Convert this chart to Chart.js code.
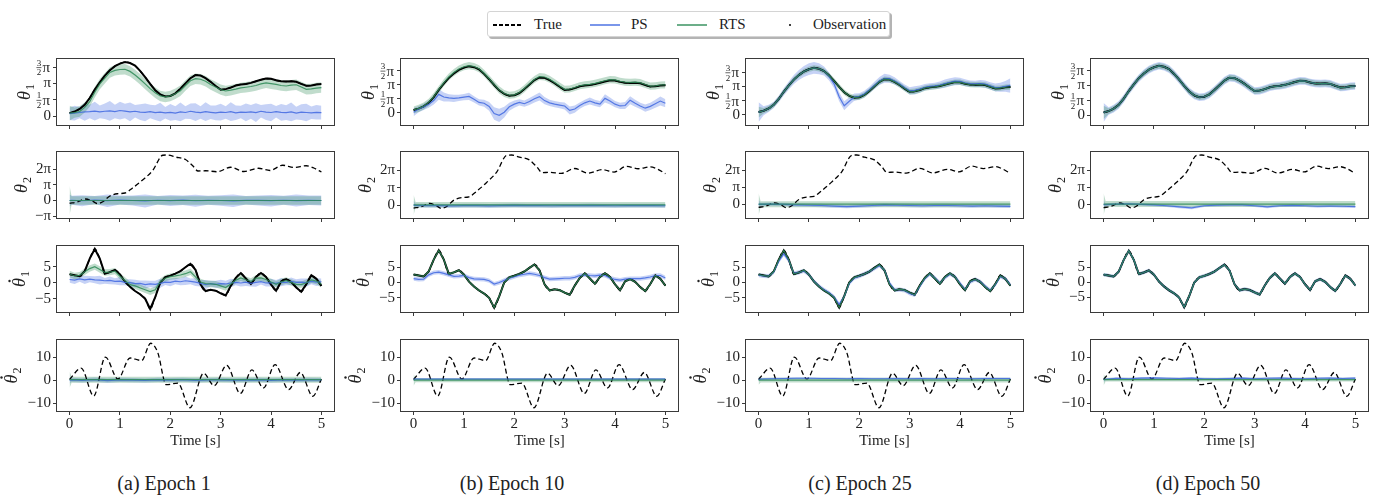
<!DOCTYPE html>
<html>
<head>
<meta charset="utf-8">
<script src="https://cdn.jsdelivr.net/npm/chart.js@4.4.1/dist/chart.umd.min.js"></script>
<style>
  body { margin: 0; background: #fff; width: 1374px; height: 497px; position: relative; overflow: hidden; font-family: 'Liberation Serif', serif; color: #222; }
  canvas.panel { position: absolute; }
  #legend { position: absolute; left: 487px; top: 11px; width: 401px; height: 24px; border: 1px solid #d4d4d4; border-radius: 3px; box-shadow: 2px 2px 0 #b4b4b4; background: #fff; font-size: 15px; }
  #legend .it { position: absolute; top: 3px; line-height: 18px; }
  #legend .ln { position: absolute; top: 12px; height: 2px; width: 30px; }
  .cap { position: absolute; top: 471px; width: 240px; margin-left: -120px; text-align: center; font-size: 20px; line-height: 24px; }
</style>
</head>
<body>
<div id="legend">
  <div class="ln" style="left:5px;height:1.5px;background:repeating-linear-gradient(to right,#000 0 4px,transparent 4px 6px);"></div>
  <div class="it" style="left:46px">True</div>
  <div class="ln" style="left:102px;background:rgba(65,105,225,0.7)"></div>
  <div class="it" style="left:143px">PS</div>
  <div class="ln" style="left:189px;background:rgba(46,139,87,0.7)"></div>
  <div class="it" style="left:231px">RTS</div>
  <div style="position:absolute;left:301px;top:12px;width:2px;height:2px;border-radius:1px;background:#000"></div>
  <div class="it" style="left:325px">Observation</div>
</div>
<div id="figure"></div>

<script>
// time grids (s)
const tGrid = [0,0.1,0.2,0.3,0.4,0.5,0.6,0.7,0.8,0.9,1,1.1,1.2,1.3,1.4,1.5,1.6,1.7,1.8,1.9,2,2.1,2.2,2.3,2.4,2.5,2.6,2.7,2.8,2.9,3,3.1,3.2,3.3,3.4,3.5,3.6,3.7,3.8,3.9,4,4.1,4.2,4.3,4.4,4.5,4.6,4.7,4.8,4.9,5];
const tFlat = [0,0.04,0.25,0.5,0.75,1,1.25,1.5,1.75,2,2.25,2.5,2.75,3,3.25,3.5,3.75,4,4.25,4.5,4.75,5];

// true states
const th1True = [0.30,0.45,0.70,1.10,1.75,2.55,3.25,3.90,4.40,4.80,5.05,5.20,5.10,4.85,4.35,3.75,3.10,2.50,2.10,1.90,1.95,2.20,2.65,3.15,3.65,3.95,3.90,3.65,3.30,2.90,2.55,2.60,2.75,2.95,3.05,3.10,3.20,3.35,3.50,3.62,3.60,3.45,3.35,3.33,3.36,3.30,3.10,2.92,2.95,3.05,3.08];
const th2TrueT = [0,0.15,0.32,0.45,0.55,0.65,0.8,0.95,1.1,1.25,1.45,1.65,1.85,1.95,2.1,2.3,2.45,2.55,2.7,2.93,3.2,3.46,3.75,3.98,4.23,4.46,4.7,4.85,5.0];
const th2TrueV = [-0.55,-0.3,0.3,-0.1,-0.6,-0.3,0.9,1.35,1.5,2.5,4.1,6.0,9.05,9.1,8.7,8.2,6.9,5.9,5.95,5.75,6.65,5.8,6.45,6.0,7.05,6.6,6.95,6.5,5.7];
const dth1True = [2.6,2.3,2.0,3.6,7.5,10.5,7.5,2.8,3.3,4.0,2.6,0.3,-1.3,-2.6,-3.6,-5.0,-8.2,-4.5,0.0,1.7,2.2,2.8,3.6,4.8,5.9,4.0,-0.6,-2.6,-2.2,-2.5,-3.3,-4.0,-1.0,1.5,3.0,1.3,-0.4,1.8,3.0,1.8,-0.6,-2.5,0.4,1.1,0.2,-1.5,-2.8,-0.5,2.3,1.2,-1.0];
const dth2TrueT = [0,0.23,0.48,0.71,0.96,1.2,1.43,1.61,1.75,1.92,2.15,2.39,2.66,2.87,3.12,3.39,3.62,3.85,4.08,4.35,4.58,4.83,5.0];
const dth2TrueV = [0.3,5.2,-6.9,10.0,0.5,9.6,8.5,16.0,12.0,-2.0,-1.3,-12.0,3.0,-2.4,6.4,-5.8,4.4,-3.4,6.7,-4.1,3.3,-7.0,0.5];

// theta1 estimates
const th1PsE1 = [0.25,0.30,0.36,0.42,0.45,0.50,0.42,0.48,0.52,0.45,0.55,0.50,0.42,0.48,0.40,0.38,0.45,0.35,0.40,0.33,0.38,0.30,0.42,0.36,0.48,0.40,0.35,0.44,0.38,0.32,0.40,0.36,0.45,0.33,0.40,0.38,0.42,0.35,0.48,0.40,0.36,0.44,0.38,0.35,0.42,0.30,0.40,0.36,0.33,0.38,0.35];
const th1PsE1Std = [0.60,0.70,0.55,0.85,0.65,0.90,0.60,0.75,0.95,0.65,0.85,0.70,0.90,0.60,0.75,0.85,0.65,0.70,0.90,0.55,0.80,0.65,0.90,0.60,0.75,0.85,0.60,0.90,0.65,0.70,0.80,0.60,0.90,0.70,0.60,0.85,0.65,0.90,0.60,0.75,0.85,0.55,0.80,0.70,0.90,0.60,0.75,0.85,0.60,0.70,0.65];
const th1RtsE1 = [0.30,0.35,0.45,0.85,1.40,2.30,3.10,3.65,4.20,4.40,4.48,4.50,4.30,3.95,3.55,3.10,2.65,2.25,1.95,1.85,1.95,2.15,2.45,2.95,3.40,3.60,3.55,3.35,3.05,2.80,2.55,2.42,2.50,2.60,2.72,2.78,2.85,2.95,3.10,3.20,3.12,3.05,2.95,2.90,2.98,3.02,2.80,2.58,2.62,2.70,2.75];
const th1PsE10 = [0.05,0.40,0.65,0.95,1.35,2.05,1.75,1.65,1.60,1.65,1.75,1.82,1.50,1.15,1.05,0.70,-0.10,-0.30,0.05,0.65,0.95,1.15,1.00,1.25,1.55,1.80,1.35,1.10,0.95,0.85,0.75,0.25,0.40,0.80,1.10,1.30,1.10,0.95,1.60,1.30,0.95,0.75,0.80,1.40,1.05,0.75,0.50,0.70,1.00,1.30,1.05];
const th1PsE10Std = [0.45,0.35,0.35,0.4,0.45,0.6,0.5,0.4,0.4,0.35,0.35,0.4,0.35,0.35,0.4,0.5,0.7,0.75,0.6,0.45,0.4,0.35,0.35,0.4,0.4,0.45,0.4,0.35,0.35,0.35,0.4,0.45,0.4,0.35,0.35,0.4,0.35,0.35,0.45,0.4,0.35,0.35,0.4,0.45,0.4,0.35,0.4,0.4,0.45,0.5,0.45];
const th1RtsE10 = [0.30,0.48,0.75,1.15,1.80,2.60,3.35,4.00,4.50,4.90,5.15,5.28,5.18,4.92,4.42,3.80,3.15,2.55,2.15,1.95,2.00,2.25,2.70,3.22,3.72,4.05,4.00,3.75,3.38,2.98,2.62,2.65,2.82,3.02,3.12,3.18,3.28,3.42,3.58,3.70,3.68,3.52,3.42,3.40,3.42,3.36,3.16,2.98,3.00,3.10,3.12];
const th1PsE25 = [0.30,0.45,0.70,1.10,1.75,2.55,3.25,3.90,4.40,4.80,5.05,5.20,5.10,4.85,4.25,3.40,2.00,1.00,1.50,1.95,2.05,2.30,2.75,3.25,3.75,4.05,4.00,3.75,3.40,3.00,2.65,2.70,2.85,3.05,3.15,3.20,3.30,3.45,3.60,3.72,3.70,3.55,3.45,3.43,3.46,3.40,3.20,3.02,3.05,3.15,3.25];
const th1PsE25Std = [1.1,0.5,0.4,0.35,0.35,0.4,0.45,0.5,0.55,0.6,0.65,0.65,0.6,0.5,0.45,0.45,0.5,0.5,0.45,0.4,0.35,0.35,0.35,0.4,0.45,0.5,0.45,0.4,0.35,0.35,0.4,0.45,0.4,0.35,0.35,0.35,0.4,0.45,0.45,0.45,0.4,0.4,0.35,0.35,0.4,0.4,0.4,0.45,0.5,0.6,0.8];

// theta2 estimates
const th2PsE1 = [0,0.05,-0.05,0.08,-0.03,0.1,0.0,-0.08,0.05,-0.02,0.06,-0.05,0.03,0.0,-0.06,0.04,0.02,-0.04,0.05,-0.02,0.03,0.0];
const th2PsE1Std = [1.2,0.9,1.1,0.8,1.25,0.9,1.0,1.3,0.85,1.1,0.95,1.2,0.9,1.05,1.25,0.85,1.0,1.15,0.9,1.2,0.95,1.0];
const th2PsE10 = [0,-0.05,-0.1,-0.1,-0.15,-0.1,-0.1,-0.15,-0.1,-0.05,-0.1,-0.1,-0.12,-0.1,-0.1,-0.08,-0.1,-0.12,-0.1,-0.1,-0.1,-0.12];
const th2PsE25 = [0,0,0.05,0.0,-0.1,-0.15,-0.2,-0.3,-0.4,-0.3,-0.2,-0.1,-0.15,-0.2,-0.25,-0.2,-0.2,-0.25,-0.3,-0.25,-0.3,-0.35];
const th2PsE50 = [0,0,0.1,0.15,0.05,-0.05,-0.2,-0.4,-0.6,-0.2,-0.1,-0.05,-0.05,-0.2,-0.4,-0.2,-0.15,-0.2,-0.3,-0.25,-0.3,-0.35];

// theta1-dot estimates
const dth1PsE1 = [1.0,0.8,1.2,0.9,1.1,0.9,0.8,0.6,0.7,0.4,0.5,0.1,0.0,-0.3,-0.2,-0.6,-0.4,-0.5,-0.2,0.2,0.1,0.5,0.3,0.6,0.4,0.2,-0.2,-0.6,-0.3,-0.5,-0.3,-0.4,-0.1,0.1,-0.1,0.2,-0.2,0.1,0.3,-0.1,0.0,-0.2,0.2,0.1,0.4,0.1,0.2,0.0,0.4,0.2,0.3];
const dth1PsE1Std = [1.0,1.2,0.9,1.3,1.0,1.1,1.4,0.9,1.2,1.0,1.3,0.9,1.1,1.2,0.9,1.3,1.0,1.1,1.4,0.9,1.2,1.0,1.1,1.3,0.9,1.2,1.0,1.4,0.9,1.1,1.2,1.0,1.3,0.9,1.1,1.2,1.0,1.4,0.9,1.1,1.2,1.0,1.3,0.9,1.2,1.0,1.1,1.3,0.9,1.2,1.0];
const dth1RtsE1 = [2.7,2.1,2.3,3.4,4.4,5.0,4.1,3.2,3.3,3.6,2.0,0.7,-0.6,-1.0,-1.6,-2.2,-2.8,-2.2,0.3,1.4,1.9,2.1,2.4,2.8,3.4,1.8,0.2,-0.3,-0.4,-0.5,-1.0,-1.5,-0.4,0.8,1.5,0.9,0.4,1.4,1.5,1.0,0.2,-0.5,0.2,0.7,0.1,-0.5,-0.6,0.0,0.9,0.5,-0.5];
const dth1PsE10 = [1.3,1.0,1.1,2.5,3.2,3.4,3.0,2.5,2.0,2.1,2.3,1.6,1.2,1.1,1.0,0.6,-0.5,0.0,0.7,1.4,1.9,2.4,2.7,3.0,2.7,2.3,1.6,1.1,1.2,1.3,1.4,1.4,1.7,2.3,2.5,2.3,2.2,2.4,2.3,1.5,1.0,0.8,1.1,1.3,1.3,1.3,1.5,1.8,2.3,2.3,1.5];
const dth1PsE25 = [2.4,2.2,2.1,3.4,7.0,9.4,7.2,3.0,3.3,3.8,2.6,0.4,-1.2,-2.4,-3.4,-4.8,-7.2,-4.6,-0.3,1.5,2.1,2.8,3.6,4.6,5.6,4.1,-0.2,-2.4,-2.3,-2.6,-3.6,-4.1,-1.3,1.3,2.8,1.5,-0.2,1.6,2.8,1.9,-0.3,-2.3,0.2,1.0,0.3,-1.3,-2.6,-0.7,2.0,1.3,-0.8];

// theta2-dot estimates
const dth2PsE1 = [0,0.1,-0.1,0.2,-0.2,0.1,0.0,-0.15,0.1,0.0,0.15,-0.1,0.05,0.1,-0.05,0.0,0.1,-0.1,0.05,0.0,0.1,0.05];
const dth2PsE25 = [0.3,0.4,0.6,0.7,0.8,0.8,0.7,0.7,0.6,0.7,0.6,0.6,0.7,0.6,0.7,0.6,0.7,0.7,0.6,0.7,0.7,0.7];
const dth2PsE50 = [0.3,0.3,0.8,0.6,0.9,1.0,0.8,0.7,0.9,0.6,0.5,0.7,0.9,0.6,0.8,0.9,0.7,0.6,0.8,0.9,0.7,0.9];

// per row / per epoch tables (rows: th1, th2, dth1, dth2 ; cols: epoch 1, 10, 25, 50)
const psMean  = [[th1PsE1, th1PsE10, th1PsE25, th1True], [th2PsE1, th2PsE10, th2PsE25, th2PsE50], [dth1PsE1, dth1PsE10, dth1PsE25, dth1True], [dth2PsE1, 0.4, dth2PsE25, dth2PsE50]];
const psStd   = [[th1PsE1Std, th1PsE10Std, th1PsE25Std, 0.4], [th2PsE1Std, 0.35, 0.3, 0.25], [dth1PsE1Std, 0.7, 0.7, 0.6], [0.9, 0.4, 0.4, 0.4]];
const psStd0  = [[null, null, null, 1.0], [1.2, 0.8, 0.8, 0.8], [null, null, null, null], [1.5, 1.0, 1.0, 1.2]];
const rtsMean = [[th1RtsE1, th1RtsE10, th1True, th1True], [0, 0.05, 0.05, 0.1], [dth1RtsE1, dth1True, dth1True, dth1True], [0.2, 0.0, 0.0, 0.2]];
const rtsStd  = [[0.5, 0.4, 0.3, 0.3], [0.85, 0.5, 0.55, 0.55], [1.0, 0.45, 0.5, 0.5], [1.3, 0.9, 1.0, 0.8]];
const rtsStd0 = [[0.7, null, 0.6, 0.7], [2.9, 1.85, 2.0, 2.0], [null, null, null, null], [3.5, 2.5, 2.0, 2.5]];

const rowTime  = [tGrid, tFlat, tGrid, tFlat];
const rowTrueT = [tGrid, th2TrueT, tGrid, dth2TrueT];
const rowTrueV = [th1True, th2TrueV, dth1True, dth2TrueV];
const rowObs   = [th1True, null, dth1True, null];

// y labels: symbol, subscript, dotted
const rowSym = ['θ', 'θ', 'θ', 'θ'];
const rowSub = ['1', '2', '1', '2'];
const rowDot = [false, false, true, true];
const captions = ['(a) Epoch 1', '(b) Epoch 10', '(c) Epoch 25', '(d) Epoch 50'];
const xTicks = [0, 1, 2, 3, 4, 5];
const yTickVals = [[0, Math.PI / 2, Math.PI, 3 * Math.PI / 2], [-Math.PI, 0, Math.PI, 2 * Math.PI], [-5, 0, 5], [-10, 0, 10]];
const yTickText = [['0', '1/2π', 'π', '3/2π'], ['−π', '0', 'π', '2π'], ['−5', '0', '5'], ['−10', '0', '10']];

// layout
const plotL = [57, 401, 746, 1091];
const plotT = [56, 149, 243, 337];
const plotW = 277, plotH = 74;
const axW = [44, 47, 50, 60];
const titleOff = [32, 35, 37, 45];
const capX = [164, 512, 860, 1208];
const PS = '65,105,225', RTS = '46,139,87';
const serif = "'Liberation Serif', 'DejaVu Serif', serif";
const axisColor = '#3a3a3a';

Chart.defaults.font.family = serif;
Chart.defaults.color = '#222';

function val(a, i) { return Array.isArray(a) ? a[i] : a; }
function pts(time, v) { return time.map((t, i) => ({ x: t, y: val(v, i) })); }
function band(time, mean, std, std0, sign) {
  return time.map((t, i) => {
    const s = (i === 0 && std0 != null) ? std0 : val(std, i);
    return { x: t, y: val(mean, i) + sign * s };
  });
}

const framePlugin = {
  id: 'frame',
  afterDraw(chart) {
    const a = chart.chartArea, ctx = chart.ctx;
    const r = chart.options.plugins.frame.row;
    ctx.save();
    ctx.strokeStyle = axisColor;
    ctx.lineWidth = 1;
    ctx.strokeRect(a.left - 0.5, a.top - 0.5, a.right - a.left + 1, a.bottom - a.top + 1);

    // stacked fraction tick labels
    const ys = chart.scales.y;
    yTickVals[r].forEach((v, k) => {
      const lab = yTickText[r][k];
      if (lab.indexOf('/') < 0 || v < ys.min || v > ys.max) return;
      const y = ys.getPixelForValue(v);
      const num = lab.split('/')[0], den = lab.split('/')[1][0], sym = lab.split('/')[1].slice(1);
      ctx.fillStyle = '#222';
      ctx.font = '15px ' + serif;
      ctx.textAlign = 'right';
      ctx.textBaseline = 'middle';
      const xr = a.left - 7;
      ctx.fillText(sym, xr, y + 1);
      const xf = xr - ctx.measureText(sym).width - 3.5;
      ctx.font = '9px ' + serif;
      ctx.textAlign = 'center';
      ctx.textBaseline = 'alphabetic';
      ctx.fillText(num, xf, y - 1.5);
      ctx.textBaseline = 'top';
      ctx.fillText(den, xf, y + 1.5);
      ctx.strokeStyle = '#222';
      ctx.lineWidth = 0.7;
      ctx.beginPath();
      ctx.moveTo(xf - 2.5, y + 0.5);
      ctx.lineTo(xf + 2.5, y + 0.5);
      ctx.stroke();
    });

    // rotated axis label
    ctx.translate(a.left - titleOff[r], (a.top + a.bottom) / 2);
    ctx.rotate(-Math.PI / 2);
    ctx.fillStyle = '#222';
    ctx.textAlign = 'left';
    ctx.textBaseline = 'alphabetic';
    ctx.font = 'italic 18px ' + serif;
    const w1 = ctx.measureText(rowSym[r]).width;
    ctx.font = '12px ' + serif;
    const w2 = ctx.measureText(rowSub[r]).width;
    const x0 = -(w1 + w2 + 1) / 2;
    ctx.font = 'italic 18px ' + serif;
    ctx.fillText(rowSym[r], x0, 5);
    ctx.font = '12px ' + serif;
    ctx.fillText(rowSub[r], x0 + w1 + 1, 9);
    if (rowDot[r]) {
      ctx.beginPath();
      ctx.arc(x0 + w1 / 2 + 1.5, -10.5, 1.2, 0, Math.PI * 2);
      ctx.fill();
    }
    ctx.restore();
  }
};

function makePanel(r, c) {
  const time = rowTime[r];
  const ds = [];
  // first dataset is drawn on top
  ds.push({ data: pts(time, rtsMean[r][c]), borderColor: 'rgba(' + RTS + ',0.85)', borderWidth: 1.2, pointRadius: 0, fill: false });
  ds.push({ data: pts(time, psMean[r][c]), borderColor: 'rgba(' + PS + ',0.85)', borderWidth: 1.2, pointRadius: 0, fill: false });
  if (rowObs[r]) {
    ds.push({ data: pts(tGrid, rowObs[r]), borderColor: '#000', borderWidth: 2.0, pointRadius: 0, fill: false });
  }
  ds.push({ data: pts(rowTrueT[r], rowTrueV[r]), borderColor: '#000', borderWidth: 1.3, borderDash: [5, 3],
            cubicInterpolationMode: 'monotone', pointRadius: 0, fill: false });
  ds.push({ data: band(time, rtsMean[r][c], rtsStd[r][c], rtsStd0[r][c], 1), borderWidth: 0, pointRadius: 0,
            fill: '+1', backgroundColor: 'rgba(' + RTS + ',0.3)' });
  ds.push({ data: band(time, rtsMean[r][c], rtsStd[r][c], rtsStd0[r][c], -1), borderWidth: 0, pointRadius: 0, fill: false });
  ds.push({ data: band(time, psMean[r][c], psStd[r][c], psStd0[r][c], 1), borderWidth: 0, pointRadius: 0,
            fill: '+1', backgroundColor: 'rgba(' + PS + ',0.3)' });
  ds.push({ data: band(time, psMean[r][c], psStd[r][c], psStd0[r][c], -1), borderWidth: 0, pointRadius: 0, fill: false });

  // matplotlib-like autoscale with 5% margins
  let lo = Infinity, hi = -Infinity;
  ds.forEach(d => d.data.forEach(p => { lo = Math.min(lo, p.y); hi = Math.max(hi, p.y); }));
  const m = (hi - lo) * 0.05;

  const bottom = r === 3;
  const xH = bottom ? 39 : 6;
  const cv = document.createElement('canvas');
  cv.className = 'panel';
  cv.width = axW[r] + plotW + 8;
  cv.height = 8 + plotH + xH;
  cv.style.left = (plotL[c] - axW[r]) + 'px';
  cv.style.top = (plotT[r] - 8) + 'px';
  document.getElementById('figure').appendChild(cv);

  new Chart(cv, {
    type: 'line',
    data: { datasets: ds },
    options: {
      responsive: false,
      animation: false,
      layout: { padding: { top: 8, right: 8, left: 0, bottom: 0 } },
      plugins: { legend: { display: false }, tooltip: { enabled: false }, frame: { row: r } },
      scales: {
        x: {
          type: 'linear', min: -0.25, max: 5.25,
          afterBuildTicks: s => { s.ticks = xTicks.map(v => ({ value: v })); },
          afterFit: s => { s.height = xH; },
          grid: { display: true, drawOnChartArea: false, drawTicks: true, tickLength: 4, color: axisColor },
          border: { display: false },
          ticks: { autoSkip: false, maxRotation: 0, padding: 0, font: { size: 15 },
                   callback: v => bottom ? String(v) : '' },
          title: { display: bottom, text: 'Time [s]', padding: 0, font: { size: 15 } }
        },
        y: {
          type: 'linear', min: lo - m, max: hi + m,
          afterBuildTicks: s => { s.ticks = yTickVals[r].filter(v => v >= s.min && v <= s.max).map(v => ({ value: v })); },
          afterFit: s => { s.width = axW[r]; },
          grid: { display: true, drawOnChartArea: false, drawTicks: true, tickLength: 4, color: axisColor },
          border: { display: false },
          ticks: { autoSkip: false, padding: 2, font: { size: 15 },
                   callback: v => {
                     const k = yTickVals[r].findIndex(t => Math.abs(t - v) < 1e-9);
                     const lab = k >= 0 ? yTickText[r][k] : '';
                     return lab.indexOf('/') >= 0 ? '' : lab;
                   } },
          title: { display: false }
        }
      }
    },
    plugins: [framePlugin]
  });
}

for (let r = 0; r < 4; r++) {
  for (let c = 0; c < 4; c++) makePanel(r, c);
}

captions.forEach((txt, c) => {
  const d = document.createElement('div');
  d.className = 'cap';
  d.style.left = capX[c] + 'px';
  d.textContent = txt;
  document.body.appendChild(d);
});
</script>
</body>
</html>
